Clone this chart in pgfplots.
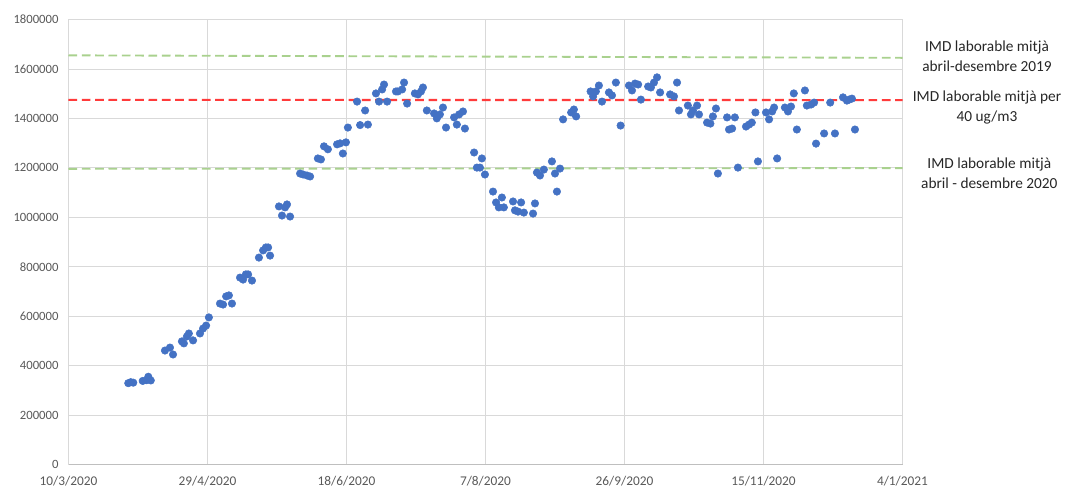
\documentclass[border=0pt]{standalone}
\usepackage{pgfplots}
\pgfplotsset{compat=1.18}
\usepackage{fontspec}
\setmainfont{Carlito}
\definecolor{ptblue}{HTML}{4472C4}
\definecolor{lgreen}{HTML}{A9D18E}
\definecolor{lred}{HTML}{FF3B3B}
\definecolor{gridgray}{HTML}{D9D9D9}
\definecolor{axgray}{HTML}{BFBFBF}
\definecolor{ticktext}{HTML}{595959}
\begin{document}
\begin{tikzpicture}
\useasboundingbox (0,0) rectangle (798.75pt,365.25pt);
\begin{axis}[
  at={(51.375pt,16.875pt)}, anchor=south west,
  width=625.5pt, height=333.75pt, scale only axis,
  xmin=0, xmax=300, ymin=0, ymax=1800000,
  xtick={0,50,...,300},
  xticklabels={10/3/2020,29/4/2020,18/6/2020,7/8/2020,26/9/2020,15/11/2020,4/1/2021},
  ytick={0,200000,...,1800000},
  scaled y ticks=false,
  yticklabel style={/pgf/number format/fixed,/pgf/number format/1000 sep={}},
  /pgf/number format/assume math mode=true,
  tick label style={font=\fontsize{9.5}{11}\selectfont, text=ticktext},
  xticklabel style={yshift=-5pt, font=\fontsize{10}{11}\selectfont},
  yticklabel style={xshift=-4pt},
  major tick length=0pt,
  grid=major,
  major grid style={gridgray, line width=0.6pt},
  axis lines*=left,
  x axis line style={axgray, line width=0.8pt, -},
  y axis line style={gridgray, line width=0.8pt, -},
  clip=false,
]
\addplot[lgreen, line width=1.4pt, dash pattern=on 6.5pt off 3.5pt] coordinates {(0,1655000) (300,1645000)};
\addplot[lred, line width=1.6pt, dash pattern=on 6.5pt off 3.5pt] coordinates {(0,1475000) (300,1474000)};
\addplot[lgreen, line width=1.4pt, dash pattern=on 6.5pt off 3.5pt] coordinates {(0,1196000) (300,1199000)};
\addplot[only marks, mark=*, mark size=2.8pt, mark options={fill=ptblue, draw=ptblue}] table {
x y
21.5 329000
22.4 333000
23.3 331000
26.7 338000
28.1 341000
28.7 355000
29.6 340000
34.7 461000
36.5 473000
37.6 445000
40.8 498000
41.5 490000
42.6 518000
43.3 530000
44.8 502000
47.3 530000
48.4 550000
49.5 562000
50.5 595000
54.5 651000
55.6 647000
56.7 680000
57.7 684000
58.8 651000
61.7 756000
62.8 748000
63.8 769000
64.6 769000
66.0 744000
68.5 837000
70.0 866000
71.0 878000
71.8 878000
72.5 845000
75.7 1044000
76.8 1007000
77.9 1040000
78.6 1052000
79.7 1003000
83.3 1177000
84.4 1173000
85.8 1169000
86.9 1165000
89.7 1238000
90.8 1234000
91.9 1287000
93.3 1275000
96.6 1295000
97.7 1299000
98.7 1258000
99.8 1303000
100.5 1363000
103.8 1468000
104.9 1373000
106.7 1432000
107.7 1375000
110.6 1501000
111.7 1468000
112.8 1517000
113.5 1537000
114.6 1468000
117.8 1509000
118.5 1509000
120.0 1517000
120.7 1545000
121.8 1460000
124.6 1501000
125.7 1497000
126.8 1509000
127.5 1525000
128.9 1432000
131.5 1420000
132.5 1400000
133.6 1416000
134.7 1444000
135.8 1363000
138.7 1404000
139.7 1375000
140.5 1416000
141.9 1428000
142.6 1359000
145.9 1262000
146.9 1201000
148.0 1201000
148.7 1238000
149.8 1173000
152.7 1104000
153.8 1060000
154.8 1040000
155.9 1080000
156.6 1040000
159.9 1064000
160.6 1028000
161.7 1023000
162.8 1060000
163.8 1019000
167.1 1015000
167.8 1056000
168.5 1181000
169.6 1169000
171.0 1193000
173.9 1226000
175.0 1177000
175.7 1104000
176.8 1197000
177.9 1396000
180.8 1424000
181.8 1436000
182.6 1408000
187.8 1509000
188.7 1489000
189.7 1509000
190.8 1533000
191.9 1468000
194.4 1505000
195.5 1493000
196.9 1545000
198.6 1371000
201.6 1533000
202.7 1513000
203.8 1541000
204.9 1537000
205.9 1476000
208.5 1529000
209.5 1525000
210.6 1545000
211.7 1566000
212.8 1505000
216.4 1497000
217.8 1489000
218.9 1545000
219.6 1432000
222.8 1452000
223.9 1416000
224.6 1432000
226.1 1452000
226.8 1416000
229.7 1383000
230.9 1379000
231.8 1408000
232.9 1440000
233.6 1177000
236.9 1404000
237.6 1355000
238.7 1359000
239.7 1404000
240.8 1201000
243.7 1367000
244.8 1375000
245.8 1383000
247.1 1424000
248.0 1226000
250.9 1424000
252.0 1396000
253.1 1428000
253.8 1444000
254.9 1238000
257.7 1444000
258.8 1428000
259.9 1448000
260.9 1501000
262.0 1355000
264.9 1513000
265.6 1452000
267.1 1456000
268.2 1464000
268.9 1298000
271.8 1339000
274.0 1464000
275.7 1339000
278.6 1485000
280.0 1472000
280.8 1476000
281.8 1480000
282.9 1355000
};
\end{axis}
\begin{scope}[every node/.style={align=center, font=\fontsize{11.5}{15}\selectfont, text=black!85}]
\node at (740.25pt,323.3pt) {IMD laborable mitjà\\abril-desembre 2019};
\node at (740.25pt,285pt) {IMD laborable mitjà per\\40 ug/m3};
\node at (742pt,235.6pt) {IMD laborable mitjà\\abril - desembre 2020};
\end{scope}
\end{tikzpicture}
\end{document}
